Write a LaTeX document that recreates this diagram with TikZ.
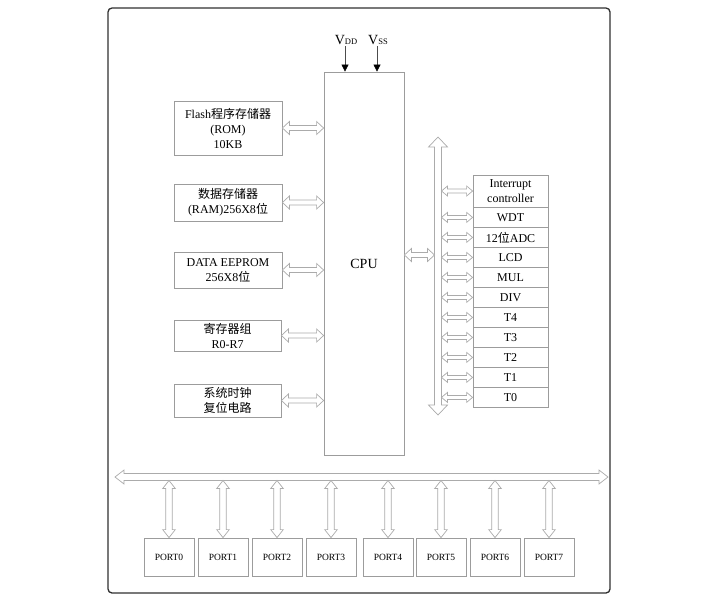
\documentclass[tikz,border=0pt]{standalone}
\usepackage{fontspec}
\setmainfont{Liberation Serif}
\newfontfamily\cjk{Noto Sans CJK SC}
\newcommand\zh[1]{{\cjk #1}}
\usetikzlibrary{calc,arrows.meta}
\definecolor{boxgray}{HTML}{9C9C9C}
\definecolor{arrgray}{HTML}{ABABAB}
\definecolor{framec}{HTML}{303030}
% horizontal hollow double arrow: #1 left point, #2 right point, #3 shaft half, #4 head half, #5 head length
\newcommand\hdarrow[5]{%
  \path[harr] let \p1=(#1), \p2=(#2) in
   (\x1,\y1) -- (\x1+#5,\y1+#4) -- (\x1+#5,\y1+#3) -- (\x2-#5,\y1+#3) -- (\x2-#5,\y1+#4) --
   (\x2,\y1) -- (\x2-#5,\y1-#4) -- (\x2-#5,\y1-#3) -- (\x1+#5,\y1-#3) -- (\x1+#5,\y1-#4) -- cycle;}
% vertical hollow double arrow: #1 top point, #2 bottom point
\newcommand\vdarrow[5]{%
  \path[harr] let \p1=(#1), \p2=(#2) in
   (\x1,\y1) -- (\x1+#4,\y1-#5) -- (\x1+#3,\y1-#5) -- (\x1+#3,\y2+#5) -- (\x1+#4,\y2+#5) --
   (\x1,\y2) -- (\x1-#4,\y2+#5) -- (\x1-#3,\y2+#5) -- (\x1-#3,\y1-#5) -- (\x1-#4,\y1-#5) -- cycle;}
\begin{document}
\begin{tikzpicture}[x=1pt,y=-1pt,
  box/.style={draw=boxgray, line width=0.8pt, inner sep=0pt, align=center,
    font=\fontsize{12}{15}\selectfont},
  stk/.style={box, minimum width=75pt, minimum height=19.2pt},
  port/.style={box, minimum width=50pt, minimum height=38pt, font=\fontsize{9.5}{11}\selectfont},
  harr/.style={draw=arrgray, fill=white, line width=0.7pt, line join=miter},
  pwr/.style={draw=black!70, line width=0.6pt, -{Triangle[length=7pt,width=7pt,color=black]}}]
\useasboundingbox (0,0) rectangle (720,600);
\fill[white] (0,0) rectangle (720,600);
\draw[framec, line width=1.3pt, rounded corners=4pt] (108,8) rectangle (610,593);

% CPU
\node[box, minimum width=80pt, minimum height=383pt, font=\fontsize{14}{16}\selectfont] (cpu) at (364,263.5) {CPU};
\node[font=\fontsize{14}{16}\selectfont, inner sep=1pt] (vdd) at (346,40) {V\raisebox{-0.5pt}{\fontsize{8.5}{9}\selectfont DD}};
\node[font=\fontsize{14}{16}\selectfont, inner sep=1pt] (vss) at (378,40) {V\raisebox{-0.5pt}{\fontsize{8.5}{9}\selectfont SS}};
\coordinate (vddx) at (345,0);
\coordinate (vssx) at (377,0);
\draw[pwr] (vddx |- vdd.south) -- (vddx |- cpu.north);
\draw[pwr] (vssx |- vss.south) -- (vssx |- cpu.north);

% left boxes
\node[box, minimum width=108pt, minimum height=54pt] (flash) at (228,128) {Flash\zh{程序存储器}\\(ROM)\\10KB};
\node[box, minimum width=108pt, minimum height=37pt] (ram) at (228,202.5) {\zh{数据存储器}\\(RAM)256X8\zh{位}};
\node[box, minimum width=108pt, minimum height=36pt] (eep) at (228,270) {DATA EEPROM\\256X8\zh{位}};
\node[box, minimum width=107pt, minimum height=31pt] (reg) at (227.5,335.5) {\zh{寄存器组}\\R0-R7};
\node[box, minimum width=107pt, minimum height=33pt] (clk) at (227.5,400.5) {\zh{系统时钟}\\\zh{复位电路}};
\foreach \nm in {flash,ram,eep,reg,clk}{
  \hdarrow{\nm.east}{cpu.west |- \nm.east}{2.5}{6.5}{7}
}

% right bus
\coordinate (busT) at (438,137);
\coordinate (busB) at (438,415);
\coordinate (busR) at (441.5,0);
\coordinate (cpubus) at (434.5,255);
\vdarrow{busT}{busB}{3.5}{9.5}{10}
\hdarrow{cpu.east |- cpubus}{cpubus}{2.5}{6.5}{7}

% right stack
\node[box, minimum width=75pt, minimum height=32pt] (irq) at (510.5,191) {Interrupt\\controller};
\node[stk, anchor=north] (wdt) at (irq.south) {WDT};
\node[stk, anchor=north] (adc) at (wdt.south) {12\zh{位}ADC};
\node[stk, anchor=north] (lcd) at (adc.south) {LCD};
\node[stk, anchor=north] (mul) at (lcd.south) {MUL};
\node[stk, anchor=north] (div) at (mul.south) {DIV};
\node[stk, anchor=north] (t4) at (div.south) {T4};
\node[stk, anchor=north] (t3) at (t4.south) {T3};
\node[stk, anchor=north] (t2) at (t3.south) {T2};
\node[stk, anchor=north] (t1) at (t2.south) {T1};
\node[stk, anchor=north] (t0) at (t1.south) {T0};
\foreach \nm in {irq,wdt,adc,lcd,mul,div,t4,t3,t2,t1,t0}{
  \hdarrow{busR |- \nm.west}{\nm.west}{2}{5}{6}
}

% bottom bus and ports
\coordinate (bL) at (115,477);
\coordinate (bR) at (608,477);
\coordinate (bbot) at (0,480.5);
\hdarrow{bL}{bR}{3.5}{7}{9}
\foreach \i/\xx in {0/169,1/223,2/277,3/331,4/388,5/441,6/495,7/549}{
  \node[port] (p\i) at (\xx,557) {PORT\i};
  \vdarrow{p\i.north |- bbot}{p\i.north}{3.2}{6.3}{8}
}
\end{tikzpicture}
\end{document}
